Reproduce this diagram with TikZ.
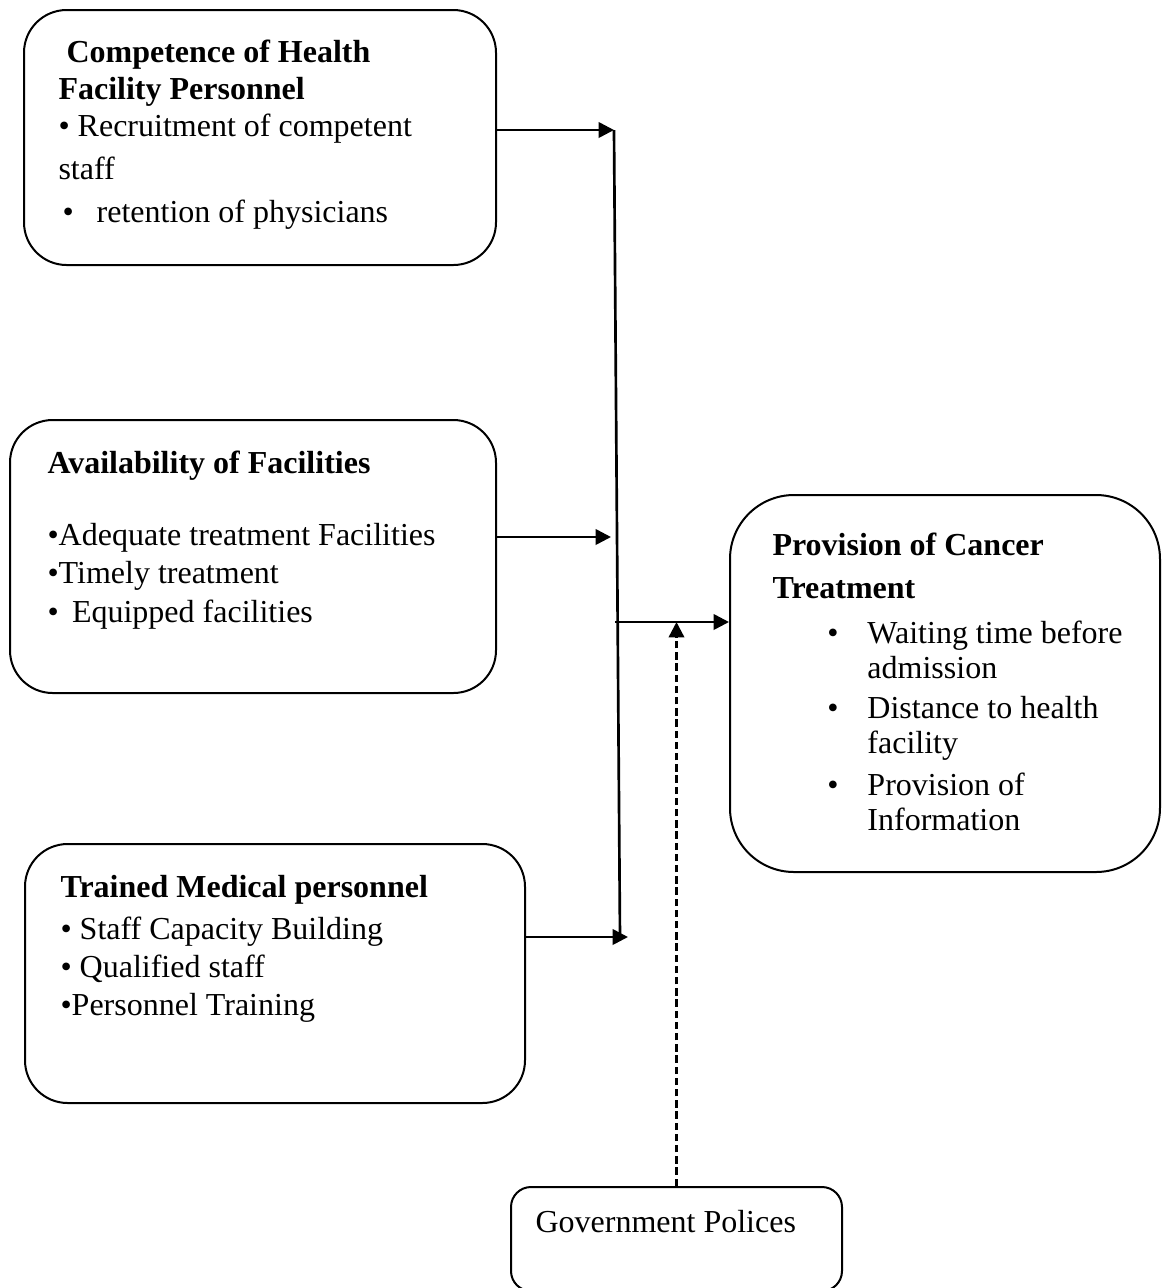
\documentclass[tikz,border=0pt]{standalone}
\usepackage{fontspec}
\setmainfont{Liberation Serif}
\usetikzlibrary{arrows.meta,positioning,fit}
\newcommand{\provitem}[1]{\hspace*{20.6pt}•\hspace{10.8pt}#1}
\newcommand{\provcont}[1]{\hspace*{35.6pt}#1}

\begin{document}
\begin{tikzpicture}[x=0.375pt,y=-0.375pt,
    framebox/.style={draw,line width=0.75pt,rounded corners=16pt,inner sep=0pt},
    boxtext/.style={anchor=base west,align=left,inner sep=0pt,font=\fontsize{12}{13.9}\selectfont},
    link/.style={-{Triangle[length=5.8pt,width=5.8pt]},line width=1pt}]
    \useasboundingbox (0,0) rectangle (1162,1288);
    \clip (0,0) rectangle (1162,1288);
    % frames
    \node[framebox,fit={(24,10) (496,265)}] (comp) {};
    \node[framebox,fit={(10,420) (496,693)}] (avail) {};
    \node[framebox,fit={(25,844) (525,1103)}] (train) {};
    \node[framebox,rounded corners=24pt,fit={(730,495) (1160,872)}] (prov) {};
    \node[framebox,rounded corners=7.5pt,fit={(511,1187) (842,1291)}] (gov) {};
    % texts (anchored on the baseline of their last line)
    \node[boxtext] (comptxt) at (58,222) {\hspace*{3pt}\textbf{Competence of Health}\\\textbf{Facility Personnel}\\• Recruitment of competent\\[2.2pt]staff\\[2pt]\hspace*{1.5pt}•\hspace{8.6pt}retention of physicians};
    \node[boxtext] (availtxt) at (47,622) {\textbf{Availability of Facilities}\\[13.1pt]•Adequate treatment Facilities\\[0.35pt]•Timely treatment\\[0.7pt]• \,Equipped facilities};
    \node[boxtext] (traintxt) at (60,1015) {\textbf{Trained Medical personnel}\\[1.85pt]• Staff Capacity Building\\[0.35pt]• Qualified staff\\•Personnel Training};
    \node[boxtext] (provtxt) at (772,830) {\textbf{Provision of Cancer}\\[2.2pt]\textbf{Treatment}\\[3pt]\provitem{Waiting time before}\\[-0.8pt]\provcont{admission}\\[1.1pt]\provitem{Distance to health}\\[-0.8pt]\provcont{facility}\\[1.85pt]\provitem{Provision of}\\[-0.8pt]\provcont{Information}};
    \node[boxtext] (govtxt) at (535,1232) {Government Polices};
    % collecting bar
    \coordinate (bartop) at (614,130);
    \coordinate (barbot) at (620,937);
    \coordinate (barmid) at (611,537);
    \coordinate (barend) at (628,937);
    \coordinate (barjoin) at (615,622);
    \draw[line width=1pt] (bartop) -- (barbot);
    \draw[link] (comp.east |- bartop) -- (bartop);
    \draw[link] (avail.east |- barmid) -- (barmid);
    \draw[link] (train.east |- barend) -- (barend);
    \draw[link] (barjoin) -- (prov.west |- barjoin);
    \draw[link,line width=0.9pt,dash pattern=on 2.8pt off 1.4pt] (gov.north) -- (gov.north |- barjoin);
\end{tikzpicture}
\end{document}
